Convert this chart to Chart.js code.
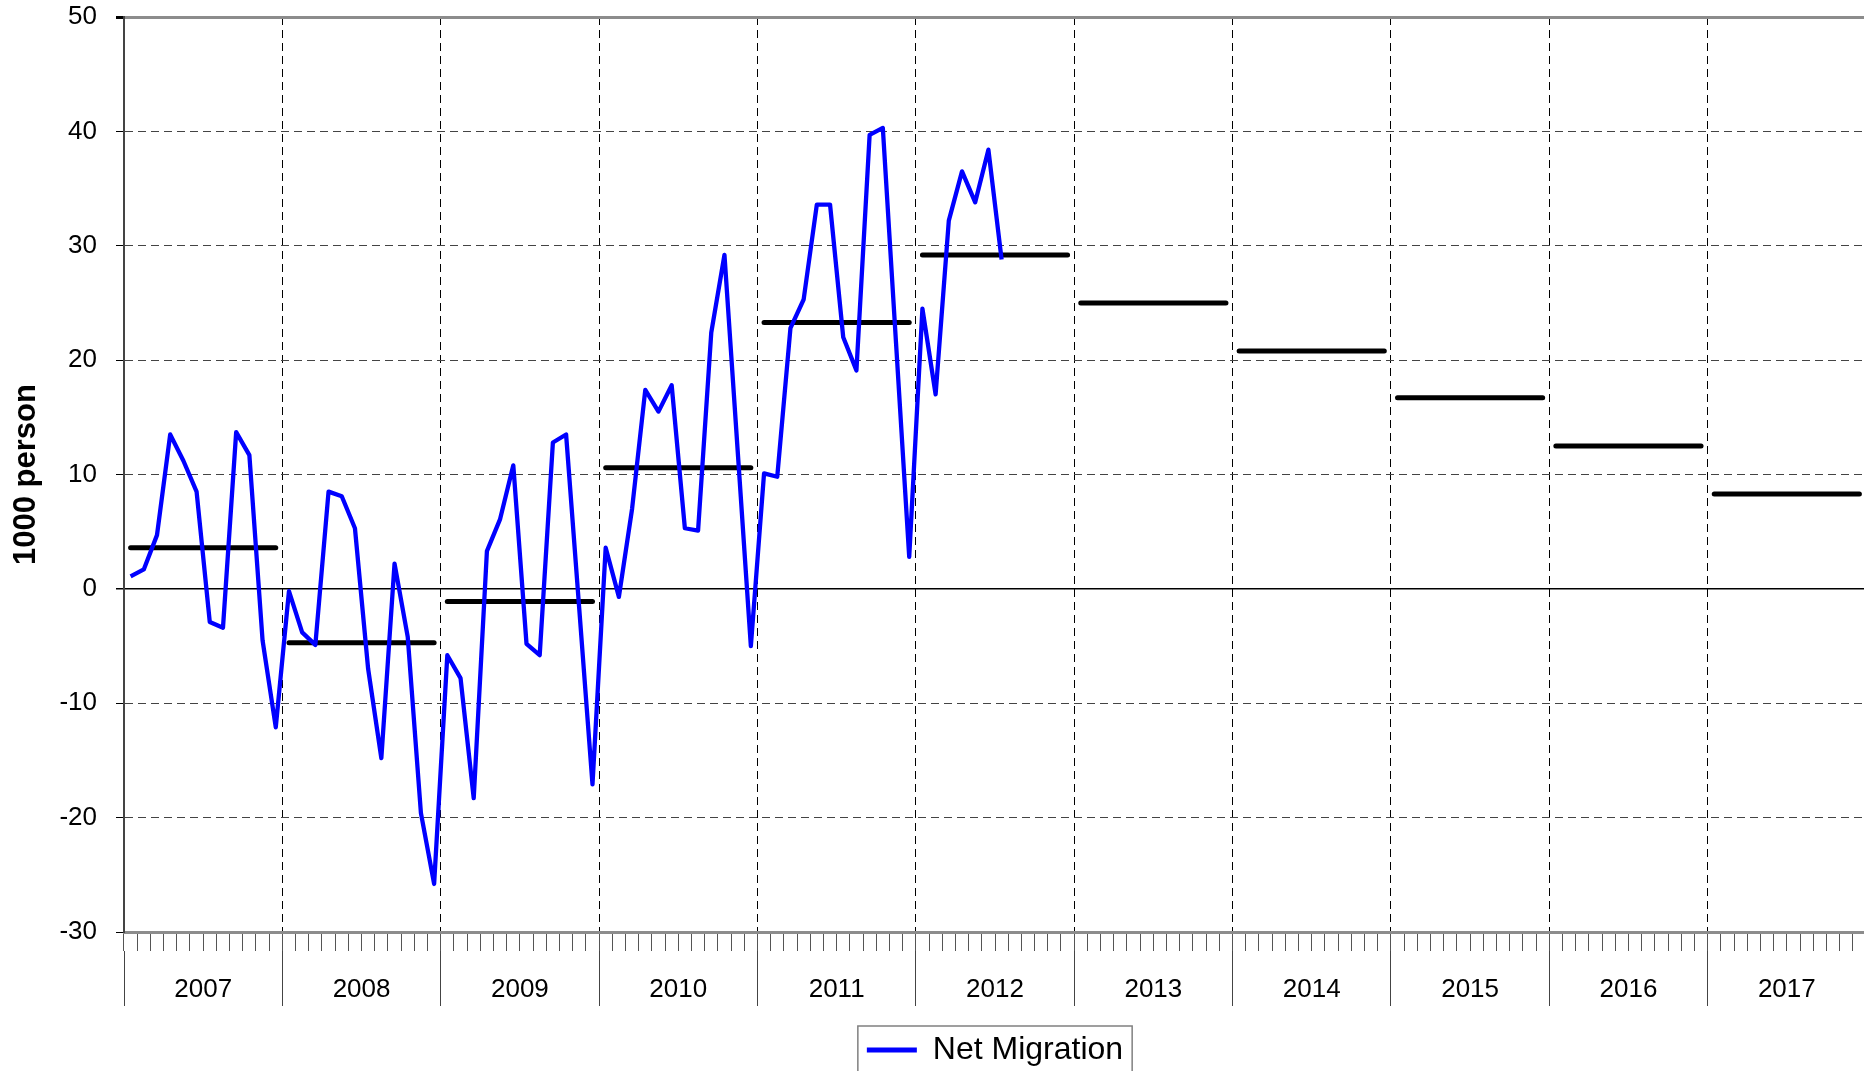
<!DOCTYPE html>
<html>
<head>
<meta charset="utf-8">
<title>Net Migration</title>
<script src="https://cdn.jsdelivr.net/npm/chart.js@4.4.1/dist/chart.umd.min.js"></script>
<style>
    html, body { margin: 0; padding: 0; background: #fff; overflow: hidden; }
    #caixaGrafico { width: 1866px; height: 1076px; position: relative; }
</style>
</head>
<body>
<div id="caixaGrafico"><canvas id="chartMigracao"></canvas></div>
<script>
// years on the lower axis
var years = ['2007', '2008', '2009', '2010', '2011', '2012', '2013', '2014', '2015', '2016', '2017'];
var months = ['Jan', 'Feb', 'Mar', 'Apr', 'May', 'Jun', 'Jul', 'Aug', 'Sep', 'Oct', 'Nov', 'Dec'];

// monthly net migration, 1000 person (Jan 2007 - Jul 2012)
var netMigration = [
    1.1, 1.7, 4.7, 13.5, 11.2, 8.5, -2.9, -3.4, 13.7, 11.7, -4.5, -12.1,
    -0.2, -3.8, -4.9, 8.5, 8.1, 5.3, -7.0, -14.8, 2.2, -4.2, -19.6, -25.8,
    -5.8, -7.8, -18.3, 3.3, 6.1, 10.8, -4.8, -5.8, 12.8, 13.5, -1.8, -17.1,
    3.6, -0.7, 7.0, 17.4, 15.5, 17.8, 5.3, 5.1, 22.4, 29.2, 12.1, -5.0,
    10.1, 9.8, 22.8, 25.3, 33.6, 33.6, 22.0, 19.1, 39.7, 40.3, 21.5, 2.8,
    24.5, 17.0, 32.2, 36.5, 33.8, 38.4, 28.8
];

// yearly level (black bars), one per year
var annualLevel = [3.6, -4.7, -1.1, 10.6, 23.3, 29.2, 25.0, 20.8, 16.7, 12.5, 8.3];

var yTicksMin = -30;
var yTicksMax = 50;
var yTicksStep = 10;

// building month labels and the yearly series
var monthLabels = [];
var annualSeries = [];
var migrationSeries = [];
for (var a = 0; a < years.length; a++) {
    for (var m = 0; m < months.length; m++) {
        monthLabels.push(months[m] + ' ' + years[a]);
        annualSeries.push(annualLevel[a]);
        var idx = a * 12 + m;
        migrationSeries.push(idx < netMigration.length ? netMigration[idx] : null);
    }
}

var fonte = "'Liberation Sans', Arial, sans-serif";

// box around the legend, like the original
var bordaLegenda = {
    id: 'bordaLegenda',
    afterDraw: function (chart) {
        var box = chart.legend && chart.legend.legendHitBoxes[0];
        if (!box) return;
        var ctx = chart.ctx;
        ctx.save();
        ctx.strokeStyle = '#808080';
        ctx.lineWidth = 1.5;
        ctx.strokeRect(box.left - 9, box.top - 8, box.width + 18, 80);
        ctx.restore();
    }
};

var dados = {
    labels: monthLabels,
    datasets: [{
        label: 'Net Migration',
        data: migrationSeries,
        borderColor: '#0000ff',
        backgroundColor: '#0000ff',
        borderWidth: 4.3,
        pointRadius: 0,
        tension: 0,
        borderJoinStyle: 'round',
        spanGaps: false
    },
    {
        label: 'Annual',
        data: annualSeries,
        borderColor: '#000000',
        backgroundColor: '#000000',
        borderWidth: 5,
        pointRadius: 0,
        tension: 0,
        borderCapStyle: 'round',
        segment: {
            // no line between December and the next January
            borderColor: function (ctx) {
                return ctx.p1DataIndex % 12 === 0 ? 'rgba(0,0,0,0)' : undefined;
            }
        }
    }]
};

var config = {
    type: 'line',
    data: dados,
    plugins: [bordaLegenda],
    options: {
        responsive: true,
        maintainAspectRatio: false,
        animation: false,
        devicePixelRatio: 1,
        layout: { padding: { top: 0, left: 0, right: 0, bottom: 0 } },
        scales: {
            x: {
                type: 'category',
                position: 'bottom',
                offset: true,
                weight: 0,
                grid: {
                    offset: true,
                    drawOnChartArea: false,
                    drawTicks: true,
                    tickLength: 19,
                    tickColor: '#555',
                    tickWidth: 1
                },
                border: { display: true, color: '#8c8c8c', width: 3 },
                ticks: { display: false }
            },
            years: {
                type: 'category',
                position: 'bottom',
                labels: years,
                offset: true,
                weight: 1,
                afterFit: function (scale) { scale.height = 56; },
                grid: {
                    offset: true,
                    drawOnChartArea: true,
                    color: '#000',
                    lineWidth: 1,
                    tickLength: 55,
                    tickColor: '#444',
                    tickWidth: 1
                },
                border: { display: false, dash: [8, 5] },
                ticks: {
                    color: '#000',
                    font: { family: fonte, size: 26 },
                    padding: -32,
                    autoSkip: false,
                    maxRotation: 0
                }
            },
            y: {
                min: yTicksMin,
                max: yTicksMax,
                afterFit: function (scale) {
                    scale.width = 124;
                    scale.paddingTop = 17;
                },
                grid: {
                    tickLength: 8,
                    tickColor: '#000',
                    color: function (ctx) {
                        if (ctx.tick && ctx.tick.value === 0) return '#000';
                        if (ctx.tick && ctx.tick.value === yTicksMax) return '#8c8c8c';
                        return '#444';
                    },
                    lineWidth: function (ctx) {
                        if (ctx.tick && ctx.tick.value === yTicksMax) return 3;
                        if (ctx.tick && ctx.tick.value === 0) return 1.5;
                        return 1;
                    }
                },
                border: {
                    display: true,
                    color: '#444',
                    width: 2,
                    dash: function (ctx) {
                        if (ctx.tick && (ctx.tick.value === 0 || ctx.tick.value === yTicksMax)) return [];
                        return [8, 5];
                    }
                },
                ticks: {
                    stepSize: yTicksStep,
                    color: '#000',
                    padding: 19,
                    font: { family: fonte, size: 26 }
                },
                title: {
                    display: true,
                    text: '1000 person',
                    color: '#000',
                    font: { family: fonte, size: 31, weight: 'bold' },
                    padding: { top: 8, bottom: 0 }
                }
            }
        },
        plugins: {
            tooltip: { enabled: false },
            legend: {
                display: true,
                position: 'bottom',
                fullSize: false,
                labels: {
                    color: '#000',
                    font: { family: fonte, size: 32 },
                    boxWidth: 50,
                    boxHeight: 5,
                    padding: 27,
                    filter: function (item) { return item.datasetIndex === 0; },
                    generateLabels: function (chart) {
                        var itens = Chart.defaults.plugins.legend.labels.generateLabels(chart);
                        itens.forEach(function (item) { item.lineWidth = 0; });
                        return itens;
                    }
                }
            }
        }
    }
};

var chartMigracao = new Chart(document.getElementById('chartMigracao'), config);
</script>
</body>
</html>
